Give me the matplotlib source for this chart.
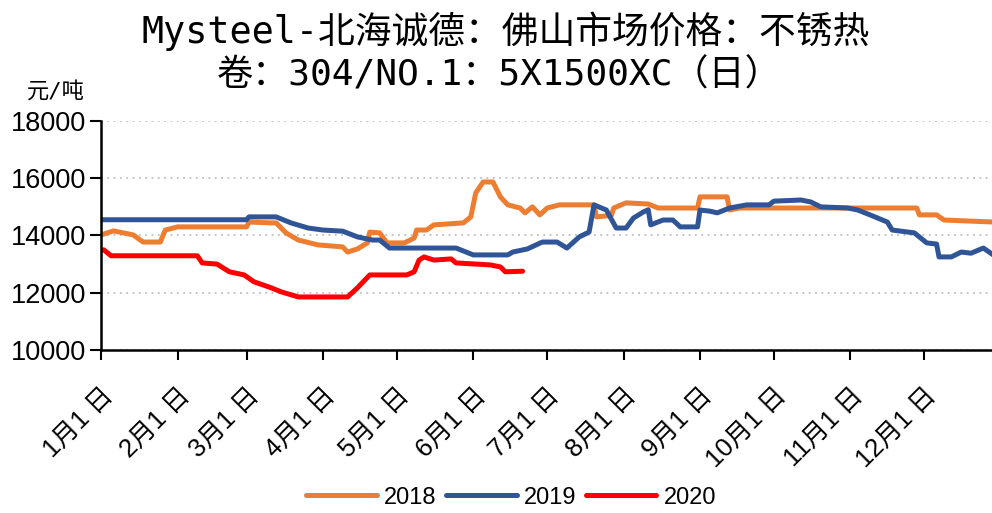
import matplotlib.pyplot as plt
import numpy as np

plt.rcParams['font.family'] = ['Liberation Sans', 'Noto Sans CJK SC']

# day of year (0 = 1月1日) and price
day_2018 = [0, 5, 9, 13, 17, 24, 26, 31, 59, 60, 69, 71, 75, 80, 88, 98, 100, 104, 108, 109,
            113, 116, 123, 127, 128, 132, 135, 147, 150, 152, 155, 159, 162, 165, 170, 172,
            175, 178, 181, 186, 200, 201, 207, 208, 213, 222, 226, 242, 243, 254, 255, 259,
            331, 332, 339, 342, 362]
price_2018 = [14020, 14160, 14090, 14020, 13770, 13770, 14190, 14300, 14300, 14470, 14440,
              14440, 14090, 13840, 13670, 13600, 13420, 13530, 13740, 14120, 14090, 13740,
              13740, 13910, 14190, 14190, 14370, 14440, 14650, 15490, 15870, 15870, 15350,
              15070, 14960, 14790, 15000, 14720, 14960, 15070, 15070, 14650, 14700, 14960,
              15140, 15100, 14960, 14960, 15350, 15350, 14890, 14960, 14960, 14720, 14720,
              14540, 14470]

day_2019 = [0, 59, 60, 71, 77, 84, 90, 98, 104, 110, 113, 117, 144, 151, 165, 167, 173, 179,
            185, 189, 194, 198, 200, 205, 209, 213, 216, 220, 222, 223, 228, 232, 235, 242,
            243, 247, 250, 255, 262, 271, 273, 284, 288, 292, 303, 307, 312, 319, 321, 330,
            335, 339, 340, 345, 349, 353, 358, 362]
price_2019 = [14550, 14550, 14650, 14650, 14440, 14260, 14190, 14150, 13950, 13840, 13840,
              13560, 13560, 13320, 13320, 13420, 13530, 13770, 13770, 13560, 13950, 14120,
              15070, 14890, 14260, 14260, 14610, 14820, 14900, 14370, 14540, 14540, 14300,
              14300, 14890, 14850, 14790, 14960, 15070, 15070, 15200, 15240, 15170, 15000,
              14960, 14890, 14720, 14470, 14190, 14090, 13740, 13700, 13250, 13250, 13420,
              13380, 13560, 13320]

day_2020 = [1, 4, 39, 41, 47, 52, 58, 62, 69, 73, 80, 100, 104, 109, 124, 127, 129, 131, 135,
            142, 144, 158, 162, 164, 171]
price_2020 = [13500, 13290, 13290, 13040, 13000, 12730, 12620, 12380, 12170, 12030, 11850,
              11850, 12170, 12620, 12620, 12730, 13140, 13250, 13140, 13180, 13040, 12970,
              12900, 12730, 12750]

month_pos = [0, 31, 59, 90, 120, 151, 181, 212, 243, 273, 304, 334]
month_labels = [f'{m}月1 日' for m in range(1, 13)]

title_font = ['DejaVu Sans Mono', 'Noto Sans CJK SC']

fig = plt.figure(figsize=(9.92, 5.13), dpi=100)
ax = fig.add_axes([0.102, 0.318, 0.898, 0.446])

ax.plot(day_2018, price_2018, color='#ED7D31', lw=3.6, label='2018', solid_capstyle='round')
ax.plot(day_2019, price_2019, color='#2F5597', lw=3.6, label='2019', solid_capstyle='round')
ax.plot(day_2020, price_2020, color='#FF0000', lw=3.6, label='2020', solid_capstyle='round')

ax.set_xlim(0, 361.5)
ax.set_ylim(10000, 18000)
ax.set_yticks([10000, 12000, 14000, 16000, 18000])
ax.set_xticks(month_pos)
ax.set_xticklabels(month_labels, rotation=45, ha='right', rotation_mode='anchor')
ax.tick_params(axis='y', labelsize=19.5, length=8, width=1.5, direction='out', pad=3)
ax.tick_params(axis='x', labelsize=18.5, length=7, width=1.5, direction='out', pad=17)
for s in ['top', 'right']:
    ax.spines[s].set_visible(False)
for s in ['left', 'bottom']:
    ax.spines[s].set_linewidth(1.8)
ax.grid(axis='y', color='#BFBFBF', linestyle=(0, (1, 2.5)), lw=1.3)
ax.set_axisbelow(True)

fig.text(0.51, 0.94, 'Mysteel-北海诚德：佛山市场价格：不锈热', ha='center', va='center',
         fontsize=26.5, family=title_font)
fig.text(0.503, 0.853, '卷：304/NO.1：5X1500XC（日）', ha='center', va='center',
         fontsize=26, family=title_font)
fig.text(0.056, 0.823, '元/吨', ha='center', va='center', fontsize=16, family=title_font)

fig.legend(loc='center', bbox_to_anchor=(0.515, 0.03), ncol=3, frameon=False, fontsize=17,
           handlelength=3.0, handletextpad=0.3, columnspacing=0.4)

fig.savefig('out.png', dpi=100)
